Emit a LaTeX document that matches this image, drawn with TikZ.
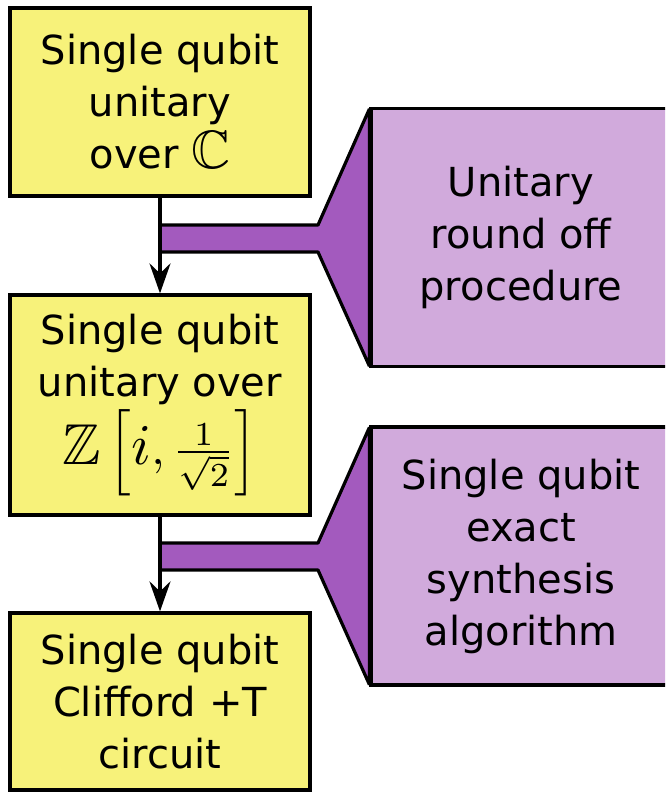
\documentclass[tikz,border=0pt]{standalone}
\usepackage{amssymb}
\usepackage{graphicx}
\usepackage{fontspec}
\setmainfont{DejaVu Sans}
\usetikzlibrary{arrows.meta,backgrounds}
\definecolor{stageyellow}{RGB}{247,242,122}
\definecolor{toolpurple}{RGB}{209,170,220}
\definecolor{funnelpurple}{RGB}{163,90,190}
% formulas set at 10pt and magnified to sit beside the 40pt text
\newcommand{\bigmath}[2]{\scalebox{#1}{\normalsize$#2$}}
\newcommand{\grow}[1]{\mbox{\scalebox{1.2}{$#1$}}}
\begin{document}
\begin{tikzpicture}[x=1pt,y=-1pt,
  stage/.style={draw=black,line width=3.2pt,fill=stageyellow,align=center,
    inner sep=0pt,font=\fontsize{40}{52}\selectfont},
  tool/.style={draw=black,line width=3.2pt,fill=toolpurple,align=center,
    inner sep=0pt,font=\fontsize{40}{52}\selectfont},
  funnel/.style={draw=black,line width=3.2pt,fill=funnelpurple,line join=bevel},
  flow/.style={line width=3.2pt,-{Stealth[length=30pt,width=21pt,inset=10pt]}}]
\useasboundingbox (0,0) rectangle (665,793);
\clip (0,0) rectangle (665,793);

% left column: the three stages
\node[stage,minimum width=300pt,minimum height=188pt] (s1) at (160,102)
  {Single qubit\\unitary\\over \bigmath{5.4}{\mathbb{C}}};
\node[stage,minimum width=300pt,minimum height=220pt] (s2) at (160,405)
  {Single qubit\\unitary over\\[3pt]\bigmath{4.8}{\grow{\mathbb{Z}}\left[\grow{i},\frac{1}{\sqrt{2}}\right]}};
\node[stage,minimum width=300pt,minimum height=177pt] (s3) at (160,701.5)
  {Single qubit\\Clifford +T\\circuit};

% right column: the procedures (running off the right edge)
\node[tool,minimum width=300pt,minimum height=258pt] (t1) at (521,237.5)
  {Unitary\\round off\\procedure};
\node[tool,minimum width=300pt,minimum height=258pt] (t2) at (521,556)
  {Single qubit\\exact\\synthesis\\algorithm};

% funnels feeding each procedure into the flow
\begin{scope}[on background layer]
\coordinate (f1a) at (160,225);
\coordinate (f1b) at (160,252);
\draw[funnel] (f1a) -- (318,225) -- ([yshift=-2pt]t1.north west)
  -- ([yshift=2pt]t1.south west) -- (318,252) -- (f1b);
\coordinate (f2a) at (160,543);
\coordinate (f2b) at (160,570);
\draw[funnel] (f2a) -- (318,543) -- ([yshift=-2pt]t2.north west)
  -- ([yshift=2pt]t2.south west) -- (318,570) -- (f2b);
\end{scope}

% flow arrows between stages
\draw[flow] (s1.south) -- (s2.north);
\draw[flow] (s2.south) -- (s3.north);
\end{tikzpicture}
\end{document}
